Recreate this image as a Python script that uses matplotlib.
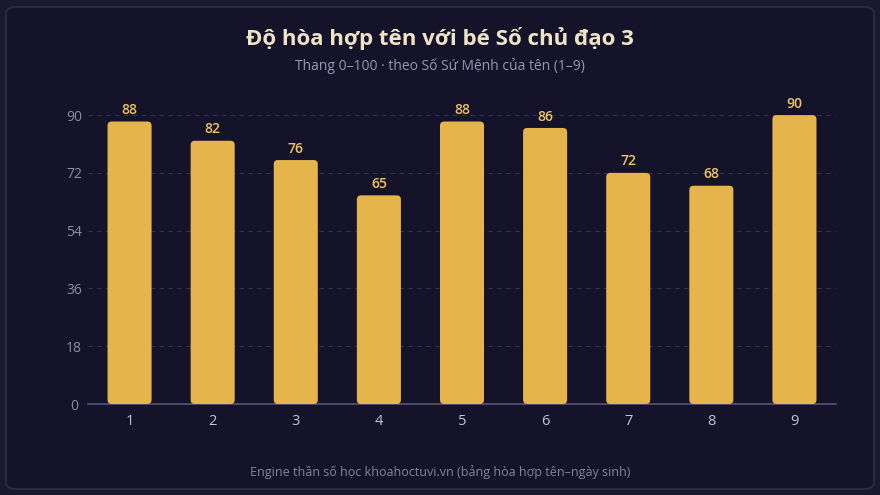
import matplotlib
matplotlib.use("Agg")
from matplotlib import pyplot as plt
from matplotlib.patches import FancyBboxPatch

# data
so_su_menh = ["1", "2", "3", "4", "5", "6", "7", "8", "9"]
diem = [88, 82, 76, 65, 88, 86, 72, 68, 90]
y_ticks = [0, 18, 36, 54, 72, 90]

plt.rcParams['font.family'] = ['Open Sans', 'DejaVu Sans']

fig = plt.figure(figsize=(8.8, 4.95), dpi=100)
fig.patch.set_facecolor('#1b1930')

# card background
card = FancyBboxPatch((6 / 880, 6 / 495), 868 / 880, 482 / 495,
                      boxstyle="round,pad=0,rounding_size=0.012",
                      transform=fig.transFigure, facecolor='#15132a',
                      edgecolor='#2f2d4a', linewidth=1.2, zorder=-5)
fig.patches.append(card)

ax = fig.add_axes([88 / 880, 1 - 404 / 495, (836 - 88) / 880, 321 / 495])
ax.set_zorder(2)
ax.set_facecolor('none')
ax.set_xlim(0.5, 9.5)
ax.set_ylim(0, 100)

x_unit = 748 / 9
y_unit = 321 / 100
bar_w = 0.53
for i, v in enumerate(diem):
    x = i + 1
    p = FancyBboxPatch((x - bar_w / 2, 0), bar_w, v,
                       boxstyle="round,pad=0,rounding_size=0.05",
                       mutation_aspect=x_unit / y_unit,
                       facecolor='#e5b54c', edgecolor='none', zorder=3)
    ax.add_patch(p)
    ax.text(x, v + 2.3, str(v), ha='center', va='baseline', fontsize=10,
            fontweight='semibold', color='#f0c463', zorder=4)

ax.set_xticks(range(1, 10))
ax.set_xticklabels(so_su_menh)
ax.set_yticks(y_ticks)
ax.tick_params(axis='both', length=0, colors='#c4c2d6', labelsize=10.5)
ax.tick_params(axis='y', pad=10, labelsize=10)
ax.tick_params(axis='x', pad=7)
for t in ax.get_yticklabels():
    t.set_color('#8e8ca6')
    t.set_horizontalalignment('center')

ax.grid(axis='y', color='#34325a', linestyle=(0, (4, 4)), linewidth=0.8, zorder=0)
for s in ['top', 'right', 'left']:
    ax.spines[s].set_visible(False)
ax.spines['bottom'].set_color('#56547a')
ax.spines['bottom'].set_linewidth(1.2)

fig.text(0.5, 1 - 38 / 495, 'Độ hòa hợp tên với bé Số chủ đạo 3', ha='center', va='center',
         fontsize=16, fontweight='bold', color='#efe3c6')
fig.text(0.5, 1 - 66 / 495, 'Thang 0–100 · theo Số Sứ Mệnh của tên (1–9)', ha='center',
         va='center', fontsize=10, color='#9896b2')
fig.text(0.5, 1 - 472 / 495, 'Engine thần số học khoahoctuvi.vn (bảng hòa hợp tên–ngày sinh)',
         ha='center', va='center', fontsize=9, color='#85839e')

fig.savefig('out.png', dpi=100, facecolor=fig.get_facecolor())
